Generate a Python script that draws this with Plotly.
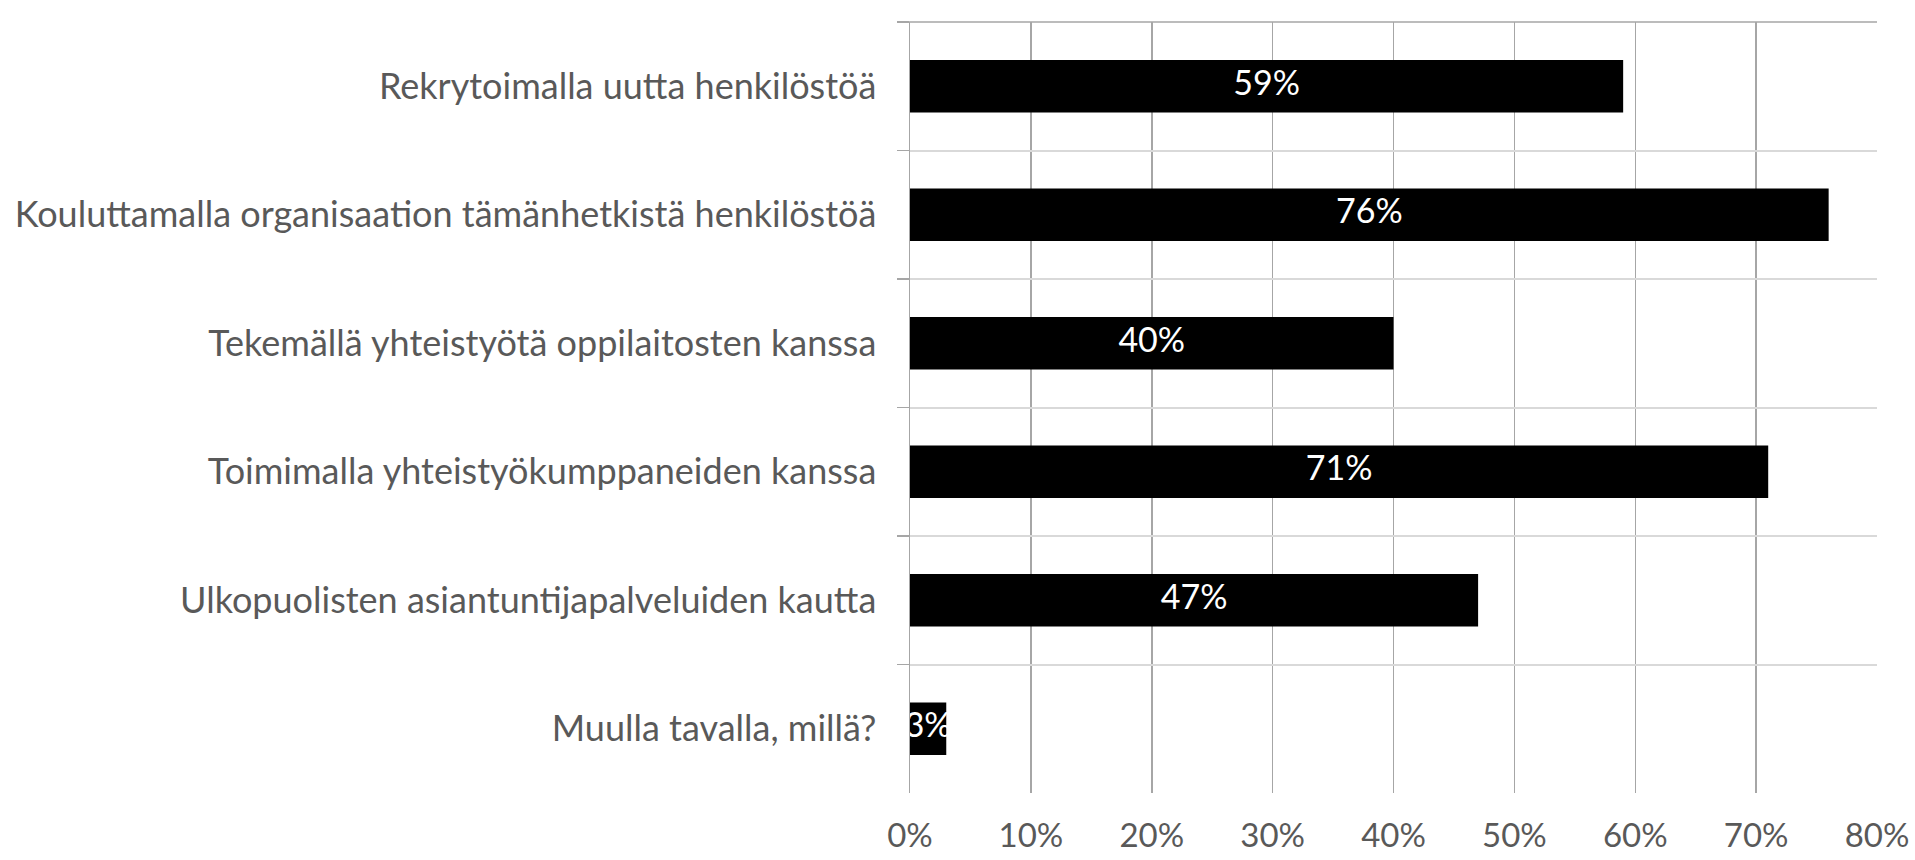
import plotly.graph_objects as go

categories = [
    "Rekrytoimalla uutta henkilöstöä",
    "Kouluttamalla organisaation tämänhetkistä henkilöstöä",
    "Tekemällä yhteistyötä oppilaitosten kanssa",
    "Toimimalla yhteistyökumppaneiden kanssa",
    "Ulkopuolisten asiantuntijapalveluiden kautta",
    "Muulla tavalla, millä?",
]
values = [59, 76, 40, 71, 47, 3]
tick_vals = [0, 10, 20, 30, 40, 50, 60, 70, 80]
tick_text = ["0%", "10%", "20%", "30%", "40%", "50%", "60%", "70%", "80%"]

FONT = "Lato"
GREY = "#595959"

fig = go.Figure()
fig.add_trace(go.Bar(
    x=values, y=categories, orientation="h",
    marker=dict(color="#000000", line=dict(width=0)),
    width=0.41, hoverinfo="skip",
))
# labels centered in bars (white text; overflow past bar end is invisible on white)
fig.add_trace(go.Scatter(
    x=[v / 2 for v in values], y=categories, mode="text",
    text=[f"{v}%" for v in values],
    textfont=dict(family=FONT, size=34, color="#ffffff"),
    textposition="middle center", hoverinfo="skip", cliponaxis=True,
))

fig.update_layout(
    width=1915, height=860,
    margin=dict(l=910, r=38, t=22, b=67, autoexpand=False),
    paper_bgcolor="white", plot_bgcolor="white",
    showlegend=False,
    font=dict(family=FONT, color=GREY),
    xaxis=dict(
        range=[0, 80], tickvals=tick_vals, ticktext=tick_text,
        showgrid=True, gridcolor="#a6a6a6", gridwidth=1.5,
        zeroline=False, showline=False, ticks="",
        tickfont=dict(family=FONT, size=33, color=GREY),
        ticklabelstandoff=20, fixedrange=True, automargin=False,
    ),
    yaxis=dict(
        autorange="reversed", type="category",
        tickson="boundaries", ticks="outside", ticklen=12, tickcolor="#a6a6a6", tickwidth=1.5,
        showgrid=True, gridcolor="#d9d9d9", gridwidth=2,
        showline=True, linecolor="#a6a6a6", linewidth=1.5,
        tickfont=dict(family=FONT, size=36, color=GREY),
        ticklabelstandoff=25, fixedrange=True, automargin=False,
    ),
    shapes=[dict(type="line", xref="paper", yref="paper", x0=-0.012, x1=1, y0=1, y1=1,
                 line=dict(color="#a6a6a6", width=1.5), layer="above")],
)

fig.write_html(
    "out.html",
    config={"displayModeBar": False, "staticPlot": True},
    post_script="document.body.style.margin='0';document.body.style.overflow='hidden';",
)
